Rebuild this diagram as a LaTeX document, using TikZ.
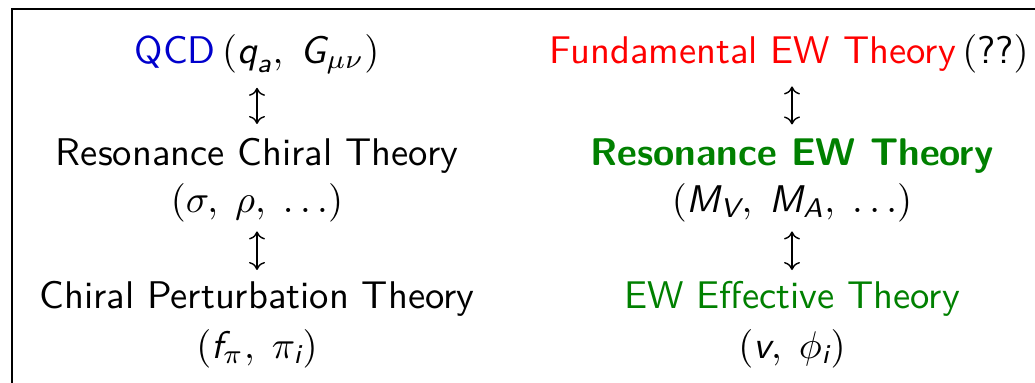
\documentclass[tikz,border=0pt]{standalone}
\usepackage{amsmath}
\usetikzlibrary{positioning,arrows.meta}
\definecolor{QCDBlue}{RGB}{0,0,204}
\definecolor{FundRed}{RGB}{255,0,0}
\definecolor{EWGreen}{RGB}{0,128,0}
\newcommand{\sv}[1]{\textsf{\slshape #1}}

\begin{document}
\begin{tikzpicture}[x=0.5pt, y=-0.5pt,
  every node/.style={font=\sffamily\fontsize{10}{12}\selectfont, scale=1.93, transform shape, inner sep=0pt, anchor=base},
  link/.style={{To[length=4pt,width=8pt]}-{To[length=4pt,width=8pt]}, line width=0.7pt}]
  \useasboundingbox (0,0) rectangle (1035,382);
  \clip (0,0) rectangle (1035,382);
  \draw[line width=1pt] (11.5,400) |- (1050,8.5);

  % hadronic side
  \node (qcd) at (257,63) {\textcolor{QCDBlue}{QCD}\,$(\sv{q}_{\sv{a}},\; \sv{G}_{\mu\nu})$};
  \node (rct) at (257,165) {Resonance Chiral Theory};
  \node (rctpar) at (257,212) {$(\sigma,\; \rho,\; \ldots)$};
  \node (chpt) at (257,308) {Chiral Perturbation Theory};
  \node (chptpar) at (257,358) {$(\sv{f}_{\pi},\; \pi_{\sv{i}})$};

  % electroweak side
  \node (few) at (789,63) {\textcolor{FundRed}{Fundamental EW Theory}\,$(\text{??})$};
  \node (rew) at (792,165) {\textcolor{EWGreen}{\bfseries Resonance EW Theory}};
  \node (rewpar) at (792,212) {$(\sv{M}_{\sv{V}},\; \sv{M}_{\sv{A}},\; \ldots)$};
  \node (ewet) at (792,308) {\textcolor{EWGreen}{EW Effective Theory}};
  \node (ewetpar) at (792,358) {$(\sv{v},\; \phi_{\sv{i}})$};

  \draw[link, shorten <=6.5pt, shorten >=6.5pt] (qcd.south) -- (rct.north);
  \draw[link, shorten <=4.5pt, shorten >=5pt] (rctpar.south) -- (chpt.north);
  \draw[link, shorten <=6.5pt, shorten >=6.5pt] (few.south -| rew.north) -- (rew.north);
  \draw[link, shorten <=4.5pt, shorten >=5pt] (rewpar.south) -- (ewet.north);
\end{tikzpicture}
\end{document}
